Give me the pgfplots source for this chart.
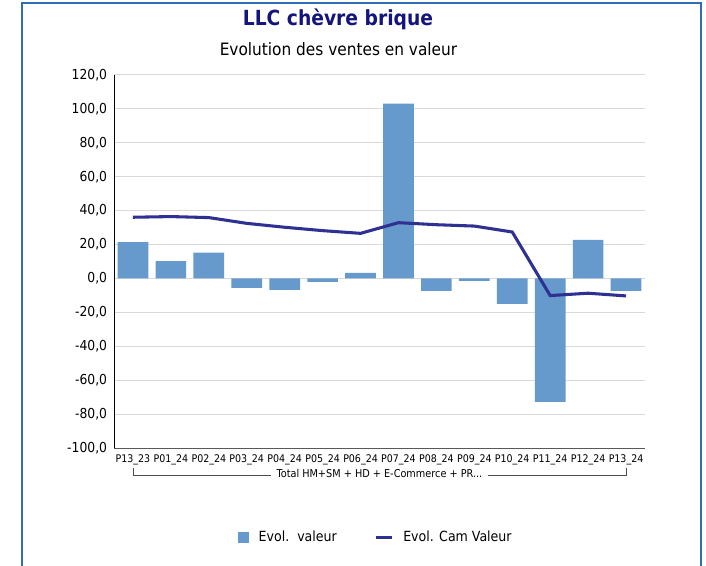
\documentclass[border=0pt]{standalone}
\usepackage{fontspec}
\setmainfont{DejaVu Sans Condensed}
\usepackage{pgfplots}
\pgfplotsset{compat=1.18}

\definecolor{barblue}{RGB}{102,153,204}
\definecolor{linenavy}{RGB}{46,49,146}
\definecolor{titlenavy}{RGB}{20,20,125}
\definecolor{frameblue}{RGB}{46,110,180}
\definecolor{gridgray}{RGB}{217,217,217}

\pgfplotstableread{
idx bar   cam
0   21.5  36.1
1   10.2  36.5
2   15.2  35.9
3   -5.5  32.5
4   -6.7  30.2
5   -2.0  28.2
6    3.3  26.6
7  103.1  32.9
8   -7.3  31.7
9   -1.4  30.9
10 -15.0  27.4
11 -72.8 -10.1
12  22.7  -8.7
13  -7.3 -10.3
}\ventes

\begin{document}
\begin{tikzpicture}
\path[use as bounding box] (0,0) rectangle (529.5pt,423.75pt);
\begin{axis}[
    at={(85.5pt,87.75pt)}, anchor=south west,
    scale only axis,
    width=398.25pt, height=279.75pt,
    xmin=-0.5, xmax=13.5,
    ymin=-100, ymax=120,
    ytick={-100,-80,...,120},
    xtick=data,
    xticklabels={P13\_23,P01\_24,P02\_24,P03\_24,P04\_24,P05\_24,P06\_24,P07\_24,P08\_24,P09\_24,P10\_24,P11\_24,P12\_24,P13\_24},
    axis lines=left,
    axis line style={-},
    x axis line style={draw=black!65},
    y axis line style={draw=black},
    major tick length=0pt,
    ymajorgrids,
    grid style={gridgray, line width=0.75pt},
    /pgf/number format/assume math mode=true,
    yticklabel={\pgfmathprintnumber[fixed,fixed zerofill,precision=1,use comma]{\tick}},
    yticklabel style={font=\fontsize{10.3}{12}\selectfont, inner sep=0pt, xshift=-5pt},
    xticklabel style={font=\fontsize{7.9}{9}\selectfont, inner sep=0pt, yshift=-5pt},
    legend style={at={(0.4935,-0.239)}, anchor=center, draw=none, fill=none,
        font=\fontsize{10.5}{12}\selectfont, legend columns=2,
        /tikz/every odd column/.append style={column sep=5.5pt},
        /tikz/every even column/.append style={column sep=26pt}},
    legend cell align=left,
]
\addplot[ybar, bar width=23pt, fill=barblue, draw=none,
    area legend,
    legend image code/.code={\fill[barblue] (0pt,-4.1pt) rectangle (8.2pt,4.1pt);}]
    table[x=idx, y=bar] {\ventes};
\addlegendentry{Evol.\ \ valeur}
\addplot[linenavy, line width=2.3pt, mark=none,
    legend image code/.code={\draw[linenavy, line width=2.3pt] (0pt,0pt) -- (12pt,0pt);}]
    table[x=idx, y=cam] {\ventes};
\addlegendentry{Evol. Cam Valeur}
\end{axis}
\begin{scope}[x=0.75pt, y=-0.75pt, yshift=423.75pt]
  % cadre
  \draw[frameblue, line width=1.5pt] (22,566) -- (22,3) -- (701,3) -- (701,566);
  % titres
  \node[titlenavy, font=\fontsize{15.6}{18}\bfseries\selectfont] at (338,19) {LLC chèvre brique};
  \node[font=\fontsize{12.8}{15}\selectfont] at (338.5,49) {Evolution des ventes en valeur};
  % groupe de categories
  \draw[black!70, line width=0.6pt] (133,468) -- (133,475) -- (271,475);
  \draw[black!70, line width=0.6pt] (488,475) -- (626,475) -- (626,468);
  \node[font=\fontsize{8.1}{9}\selectfont, inner sep=0pt] at (379.5,473) {Total HM+SM + HD + E-Commerce + PR...};
\end{scope}
\end{tikzpicture}
\end{document}
